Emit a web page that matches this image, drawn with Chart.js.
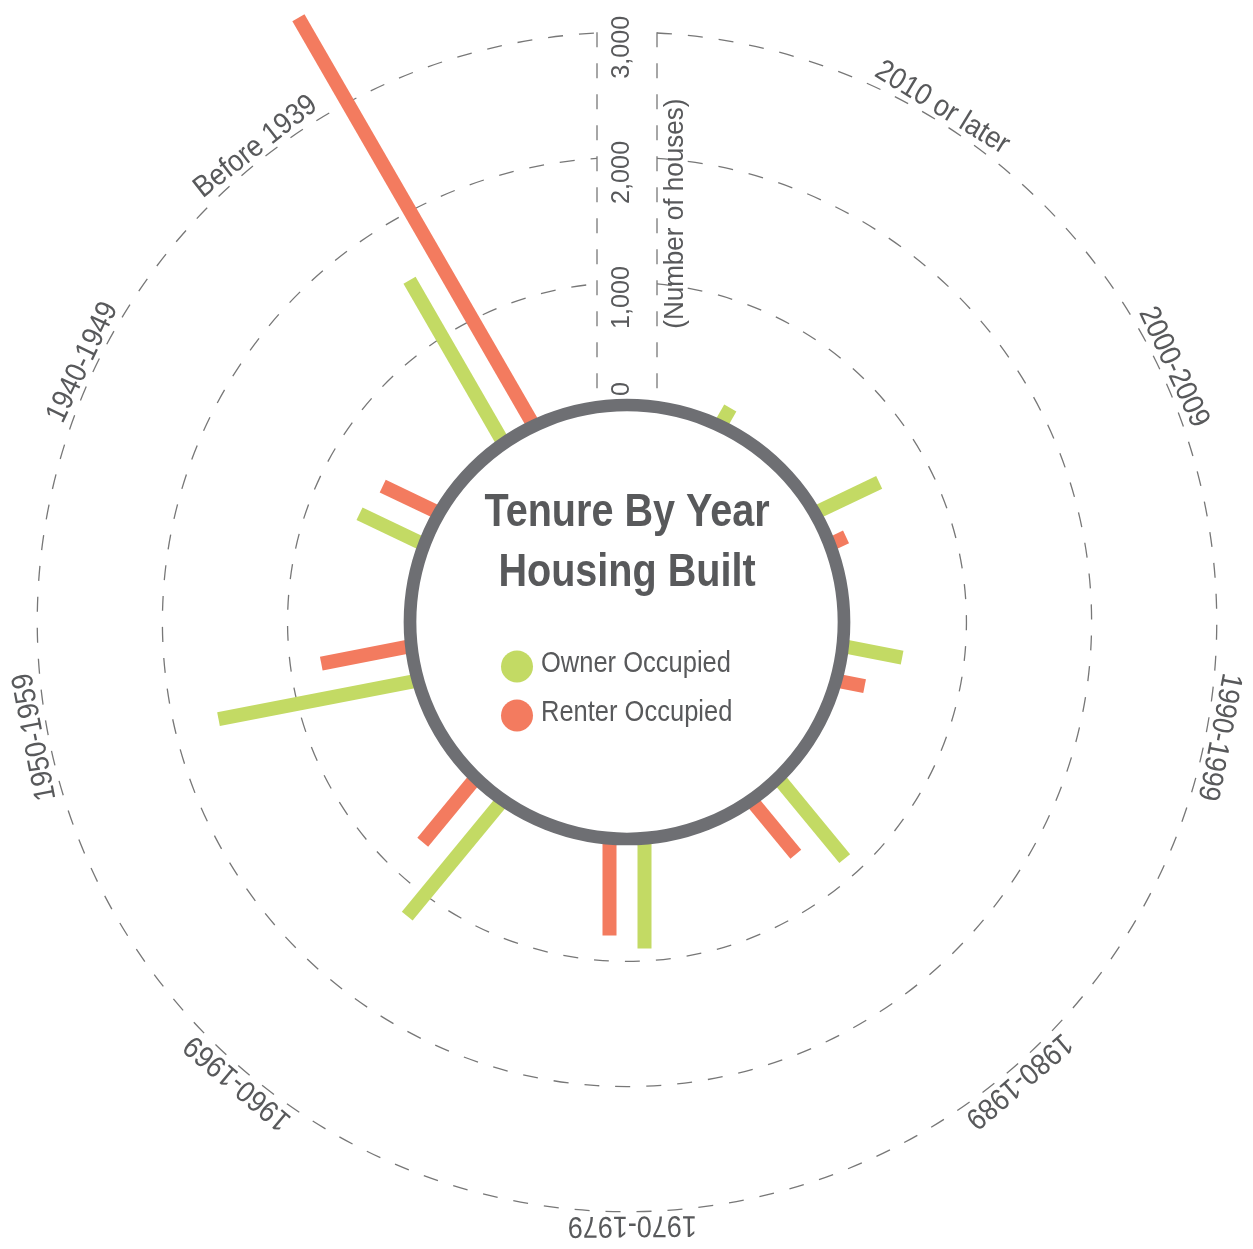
<!DOCTYPE html>
<html>
<head>
<meta charset="utf-8">
<title>Tenure By Year Housing Built</title>
<script src="https://cdn.jsdelivr.net/npm/chart.js@4.4.1/dist/chart.umd.min.js"></script>
<style>
body{margin:0;background:#fff}
#wrap{position:absolute;left:2px;top:0}
</style>
</head>
<body>
<div id="wrap"><canvas id="chart" width="1250" height="1244"></canvas></div>
<script>
const categories = ['2010 or later','2000-2009','1990-1999','1980-1989','1970-1979','1960-1969','1950-1959','1940-1949','Before 1939']
const owner  = [181, 587, 500, 853, 896, 1218, 1640, 589, 1521]
const renter = [40, 160, 249, 578, 793, 684, 749, 517, 3781]
const tickValues = [0, 1000, 2000, 3000]

// angle of each category in degrees, clockwise from the top
const angles = [30, 64.5, 101, 140.5, 180, 219.5, 259, 295.5, 330]
const labelShift = [1.5, 0.5, 0, -1, -0.5, 0.7, 0, 0, -8]

const GREEN = '#c3da64', RED = '#f37b5f', GREY = '#6e6f73', TEXT = '#58595b', DASH = '#777777'
const FONT = "'Liberation Sans', Arial, sans-serif"
const RING_R = 217, BAR_W = 14, GAP = 17.5, AXIS_HALF = 30
const STEPS = 720   // half-degree slots around the radar

const slots = angles.map(a => Math.round(a * STEPS / 360))
const labels = new Array(STEPS).fill('')
slots.forEach((s,i)=> labels[s] = categories[i])

function spread(values){
    const arr = new Array(STEPS).fill(null)
    slots.forEach((s,i)=> arr[s] = values[i])
    return arr
}

// condensed-looking text: horizontally squeezed Liberation Sans
function squeezed(ctx, str, x, y, sx){
    ctx.save()
    ctx.translate(x, y)
    ctx.scale(sx, 1)
    ctx.fillText(str, 0, 0)
    ctx.restore()
}

function drawBars(chart, dsIndex, side, color){
    const ctx = chart.ctx, r = chart.scales.r
    const meta = chart.getDatasetMeta(dsIndex)
    ctx.strokeStyle = color
    ctx.lineWidth = BAR_W
    ctx.lineCap = 'butt'
    ctx.setLineDash([])
    slots.forEach(s=>{
        const pt = meta.data[s]
        const base = r.getPointPositionForValue(s, 0)
        const a = r.getIndexAngle(s)
        const ox = Math.cos(a)*GAP*side, oy = Math.sin(a)*GAP*side
        ctx.beginPath()
        ctx.moveTo(base.x+ox, base.y+oy)
        ctx.lineTo(pt.x+ox, pt.y+oy)
        ctx.stroke()
    })
}

const radialBars = {
    id: 'radialBars',
    beforeDatasetsDraw(chart){
        const ctx = chart.ctx, r = chart.scales.r
        const cx = r.xCenter, cy = r.yCenter
        ctx.save()
        ctx.strokeStyle = DASH
        ctx.lineWidth = 1.3
        ctx.setLineDash([15,16])

        // dashed value circles, open where the value axis runs
        tickValues.slice(1).forEach(v=>{
            const rad = r.getDistanceFromCenterForValue(v)
            const d = Math.asin(AXIS_HALF / rad)
            ctx.beginPath()
            ctx.arc(cx, cy, rad, -Math.PI/2 + d, -Math.PI/2 - d + Math.PI*2)
            ctx.stroke()
        })

        const top = cy - r.getDistanceFromCenterForValue(tickValues[tickValues.length-1])
        const ringTop = cy - RING_R
        for (const dx of [-AXIS_HALF, AXIS_HALF]) {
            ctx.beginPath()
            ctx.moveTo(cx+dx, top)
            ctx.lineTo(cx+dx, ringTop)
            ctx.stroke()
        }

        ctx.fillStyle = TEXT
        ctx.textAlign = 'center'
        ctx.textBaseline = 'middle'
        ctx.font = `26px ${FONT}`
        tickValues.forEach(v=>{
            const y = Math.min(cy - r.getDistanceFromCenterForValue(v) + 15, cy - 233)
            ctx.save()
            ctx.translate(cx-5, y)
            ctx.rotate(-Math.PI/2)
            squeezed(ctx, v.toLocaleString('en-US'), 0, 0, 0.97)
            ctx.restore()
        })
        ctx.font = `28px ${FONT}`
        ctx.save()
        ctx.translate(cx+48, cy - r.getDistanceFromCenterForValue(1550))
        ctx.rotate(-Math.PI/2)
        squeezed(ctx, '(Number of houses)', 0, 0, 0.93)
        ctx.restore()
        ctx.restore()
    },
    afterDatasetsDraw(chart){
        const ctx = chart.ctx, r = chart.scales.r
        const cx = r.xCenter, cy = r.yCenter
        ctx.save()
        drawBars(chart, 0, -1, GREEN)
        drawBars(chart, 1, 1, RED)

        // centre ring
        ctx.beginPath()
        ctx.arc(cx, cy, RING_R, 0, Math.PI*2)
        ctx.fillStyle = '#fff'
        ctx.fill()
        ctx.lineWidth = 12.7
        ctx.strokeStyle = GREY
        ctx.stroke()

        // title
        ctx.fillStyle = TEXT
        ctx.textAlign = 'center'
        ctx.textBaseline = 'alphabetic'
        ctx.font = `bold 46px ${FONT}`
        squeezed(ctx, 'Tenure By Year', cx, cy-96.5, 0.86)
        squeezed(ctx, 'Housing Built', cx, cy-36.5, 0.86)

        // legend
        const items = [['Owner Occupied', GREEN], ['Renter Occupied', RED]]
        ctx.font = `30px ${FONT}`
        ctx.textAlign = 'left'
        ctx.textBaseline = 'middle'
        items.forEach((it,i)=>{
            ctx.beginPath()
            ctx.arc(cx-110, cy+44.5+49*i, 16, 0, Math.PI*2)
            ctx.fillStyle = it[1]
            ctx.fill()
            ctx.fillStyle = TEXT
            squeezed(ctx, it[0], cx-86, cy+42+48.5*i, 0.85)
        })

        // category labels along the outer circle
        const R = r.getDistanceFromCenterForValue(3000) + 5
        ctx.font = `30px ${FONT}`
        ctx.textAlign = 'center'
        ctx.textBaseline = 'alphabetic'
        slots.forEach((s,i)=>{
            const a = r.getIndexAngle(s) + labelShift[i]*Math.PI/180
            ctx.save()
            ctx.translate(cx, cy)
            ctx.rotate(a)
            squeezed(ctx, categories[i], 0, -R, 0.9)
            ctx.restore()
        })
        ctx.restore()
    }
}

new Chart(document.getElementById('chart'), {
    type: 'radar',
    data: {
        labels: labels,
        datasets: [
            { label: 'Owner Occupied', data: spread(owner), showLine: false, borderColor: 'rgba(0,0,0,0)', pointRadius: 0 },
            { label: 'Renter Occupied', data: spread(renter), showLine: false, borderColor: 'rgba(0,0,0,0)', pointRadius: 0 }
        ]
    },
    options: {
        responsive: false,
        animation: false,
        devicePixelRatio: 1,
        plugins: { legend: { display: false }, tooltip: { enabled: false } },
        scales: {
            r: {
                min: -1712.3,
                max: 3257.7,
                ticks: { display: false, stepSize: 1000 },
                pointLabels: { display: false },
                angleLines: { display: false },
                grid: { display: false }
            }
        }
    },
    plugins: [radialBars]
})
</script>
</body>
</html>
